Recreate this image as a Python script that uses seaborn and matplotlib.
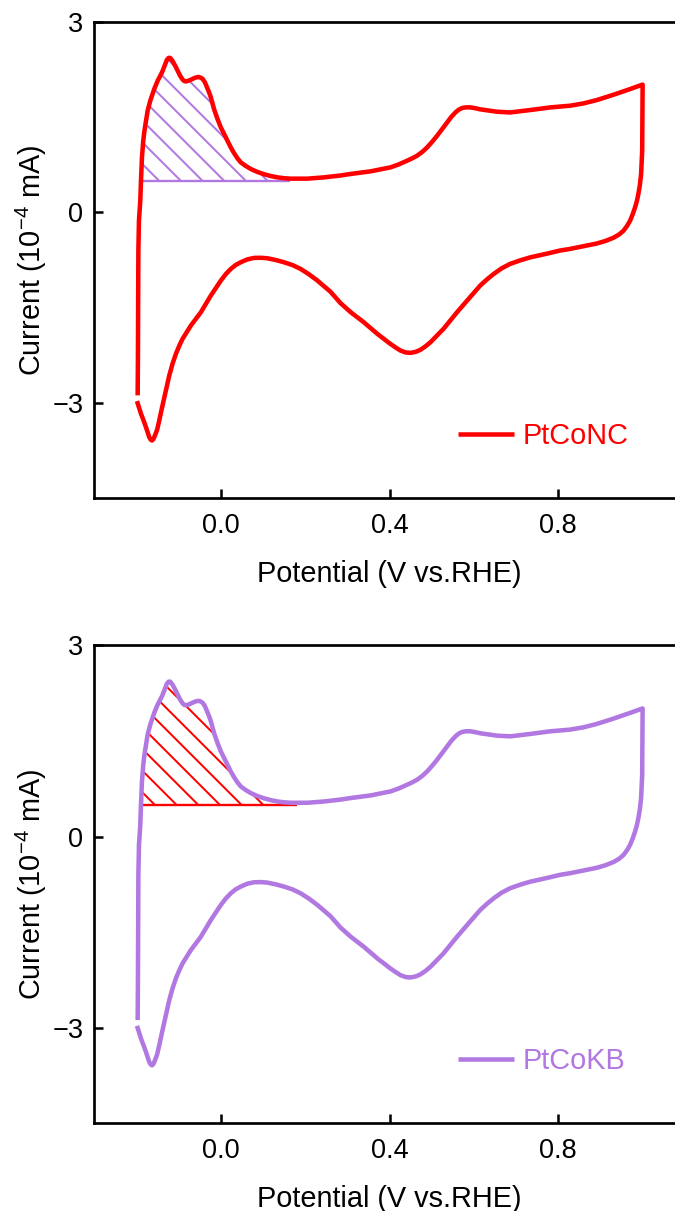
import numpy as np
import pandas as pd
import matplotlib
matplotlib.use("Agg")
import matplotlib.pyplot as plt
import seaborn as sns

# Cyclic voltammogram, current in 1e-4 mA, potential in V vs. RHE.
# Forward (anodic) sweep from -0.2 V up to 1.0 V.
potential_anodic = [
    -0.1972, -0.1966, -0.1961, -0.1955, -0.1941, -0.1910, -0.1893, -0.1870,
    -0.1855, -0.1839, -0.1820, -0.1799, -0.1767, -0.1735, -0.1704, -0.1673,
    -0.1626, -0.1579, -0.1538, -0.1498, -0.1447, -0.1396, -0.1318, -0.1278,
    -0.1238, -0.1200, -0.1143, -0.1085, -0.1025, -0.0966, -0.0907, -0.0867,
    -0.0828, -0.0749, -0.0670, -0.0600, -0.0528, -0.0480, -0.0433, -0.0380,
    -0.0331, -0.0280, -0.0237, -0.0159, -0.0080, 0.0000, 0.0080, 0.0159,
    0.0237, 0.0315, 0.0394, 0.0473, 0.0590, 0.0710, 0.0868, 0.1025,
    0.1180, 0.1342, 0.1500, 0.1657, 0.2052, 0.2445, 0.2840, 0.3077,
    0.3550, 0.4024, 0.4221, 0.4418, 0.4537, 0.4655, 0.4774, 0.4892,
    0.5010, 0.5129, 0.5248, 0.5366, 0.5462, 0.5562, 0.5640, 0.5721,
    0.5820, 0.5917, 0.6035, 0.6154, 0.6549, 0.6864, 0.7337, 0.7811,
    0.8284, 0.8599, 0.8916, 0.9309, 0.9704, 1.0000,
]
current_anodic = [
    -2.88, -2.33, -1.39, -0.60, -0.13, 0.18, 0.50, 0.865,
    1.00, 1.127, 1.235, 1.336, 1.47, 1.60, 1.68, 1.756,
    1.85, 1.94, 2.005, 2.07, 2.135, 2.20, 2.33, 2.40,
    2.43, 2.43, 2.38, 2.31, 2.23, 2.15, 2.09, 2.065,
    2.06, 2.075, 2.10, 2.12, 2.13, 2.12, 2.10, 2.05,
    1.97, 1.89, 1.81, 1.62, 1.47, 1.336, 1.23, 1.127,
    1.02, 0.93, 0.85, 0.786, 0.73, 0.682, 0.635, 0.60,
    0.572, 0.55, 0.537, 0.53, 0.53, 0.55, 0.58, 0.604,
    0.645, 0.708, 0.755, 0.813, 0.85, 0.892, 0.95, 1.022,
    1.11, 1.206, 1.31, 1.415, 1.50, 1.572, 1.615, 1.642,
    1.652, 1.651, 1.638, 1.62, 1.583, 1.572, 1.61, 1.651,
    1.678, 1.714, 1.767, 1.85, 1.94, 2.01,
]
# Reverse (cathodic) sweep from 1.0 V back down to -0.2 V.
potential_cathodic = [
    0.9995, 0.9990, 0.9964, 0.9935, 0.9900, 0.9865, 0.9822, 0.9765,
    0.9704, 0.9630, 0.9546, 0.9440, 0.9309, 0.9120, 0.8916, 0.8284,
    0.8050, 0.7733, 0.7340, 0.7100, 0.6860, 0.6660, 0.6470, 0.6310,
    0.6150, 0.6000, 0.5840, 0.5720, 0.5600, 0.5280, 0.4970, 0.4850,
    0.4730, 0.4620, 0.4500, 0.4380, 0.4260, 0.4140, 0.4020, 0.3710,
    0.3390, 0.3080, 0.2840, 0.2600, 0.2290, 0.2090, 0.1890, 0.1700,
    0.1500, 0.1300, 0.1105, 0.0950, 0.0790, 0.0630, 0.0470, 0.0350,
    0.0237, 0.0120, 0.0000, -0.0237, -0.0473, -0.0710, -0.0907, -0.0986,
    -0.1065, -0.1144, -0.1223, -0.1282, -0.1342, -0.1400, -0.1460, -0.1510,
    -0.1562, -0.1600, -0.1633, -0.1665, -0.1697, -0.1735, -0.1775, -0.1835,
    -0.1893, -0.1988,
]
current_cathodic = [
    1.49, 0.97, 0.60, 0.43, 0.29, 0.18, 0.08, -0.03,
    -0.13, -0.215, -0.29, -0.35, -0.40, -0.45, -0.49, -0.575,
    -0.60, -0.65, -0.708, -0.755, -0.811, -0.88, -0.969, -1.055,
    -1.152, -1.265, -1.388, -1.48, -1.572, -1.833, -2.044, -2.11,
    -2.164, -2.195, -2.211, -2.205, -2.175, -2.125, -2.07, -1.912,
    -1.73, -1.572, -1.43, -1.25, -1.074, -0.975, -0.89, -0.83,
    -0.786, -0.75, -0.723, -0.715, -0.717, -0.74, -0.786, -0.83,
    -0.89, -0.97, -1.074, -1.31, -1.572, -1.781, -1.99, -2.10,
    -2.226, -2.38, -2.568, -2.74, -2.91, -3.09, -3.275, -3.42,
    -3.511, -3.57, -3.59, -3.575, -3.538, -3.46, -3.38, -3.27,
    -3.17, -2.97,
]

# Both catalysts trace the same voltammogram.
samples = ["PtCoNC", "PtCoKB"]
line_colors = ["#FF0000", "#B278E2"]
hatch_colors = ["#B278E2", "#FF0000"]

# Hydrogen-desorption charge: area above the double-layer baseline.
hupd_baseline = 0.5
hupd_windows = [(-0.189, 0.163), (-0.184, 0.180)]

x_ticks = [0.0, 0.4, 0.8]
x_ticklabels = ["0.0", "0.4", "0.8"]
y_ticks = [-3, 0, 3]
y_ticklabels = ["\u22123", "0", "3"]

sns.set_theme(style="ticks")
plt.rcParams["font.family"] = ["Liberation Sans", "DejaVu Sans"]
plt.rcParams["mathtext.fontset"] = "custom"
plt.rcParams["mathtext.rm"] = "Liberation Sans"
plt.rcParams["mathtext.it"] = "Liberation Sans:italic"
plt.rcParams["mathtext.default"] = "regular"
plt.rcParams["hatch.linewidth"] = 1.1

DPI = 130
fig = plt.figure(figsize=(675 / DPI, 1211 / DPI), dpi=DPI)
ax_rects = [
    [0.1397, 0.5885, 0.8748, 0.3936],
    [0.1397, 0.0724, 0.8748, 0.3947],
]

cv = pd.DataFrame({
    "potential": potential_anodic + potential_cathodic,
    "current": current_anodic + current_cathodic,
})
xa = np.array(potential_anodic)
ya = np.array(current_anodic)

for rect, name, lc, hc, (lo, hi) in zip(ax_rects, samples, line_colors,
                                        hatch_colors, hupd_windows):
    ax = fig.add_axes(rect)

    sel = (xa >= -0.2) & (xa <= hi)
    with plt.rc_context({"hatch.color": hc}):
        ax.fill_between(xa[sel], hupd_baseline, ya[sel],
                        where=ya[sel] >= hupd_baseline, interpolate=True,
                        facecolor="none", edgecolor=hc, hatch="\\\\",
                        linewidth=0, zorder=1)
    ax.hlines(hupd_baseline, lo, hi, colors=hc, linewidth=1.3, zorder=1.5)

    sns.lineplot(data=cv, x="potential", y="current", sort=False,
                 estimator=None, color=lc, linewidth=2.5, ax=ax,
                 label=name, zorder=3, solid_joinstyle="round",
                 solid_capstyle="butt")

    ax.set_xlim(-0.3, 1.1)
    ax.set_ylim(-4.5, 3)
    ax.set_xticks(x_ticks, x_ticklabels)
    ax.set_yticks(y_ticks, y_ticklabels)
    ax.tick_params(direction="in", length=5, width=1.4, labelsize=15,
                   color="black", labelcolor="black")
    ax.tick_params(axis="x", pad=8)
    ax.tick_params(axis="y", pad=6)
    for sp in ax.spines.values():
        sp.set_linewidth(1.5)
        sp.set_color("black")

    ax.set_xlabel("Potential (V vs.RHE)", fontsize=16, labelpad=12,
                  color="black")
    ax.set_ylabel("Current (10$^{-4}$ mA)", fontsize=16, labelpad=2,
                  color="black")

    ax.legend(loc="center left", bbox_to_anchor=(0.616, 0.131),
              frameon=False, borderpad=0, borderaxespad=0,
              handlelength=1.95, handletextpad=0.3, fontsize=16,
              labelcolor="linecolor")

fig.savefig("out.png", dpi=DPI)
